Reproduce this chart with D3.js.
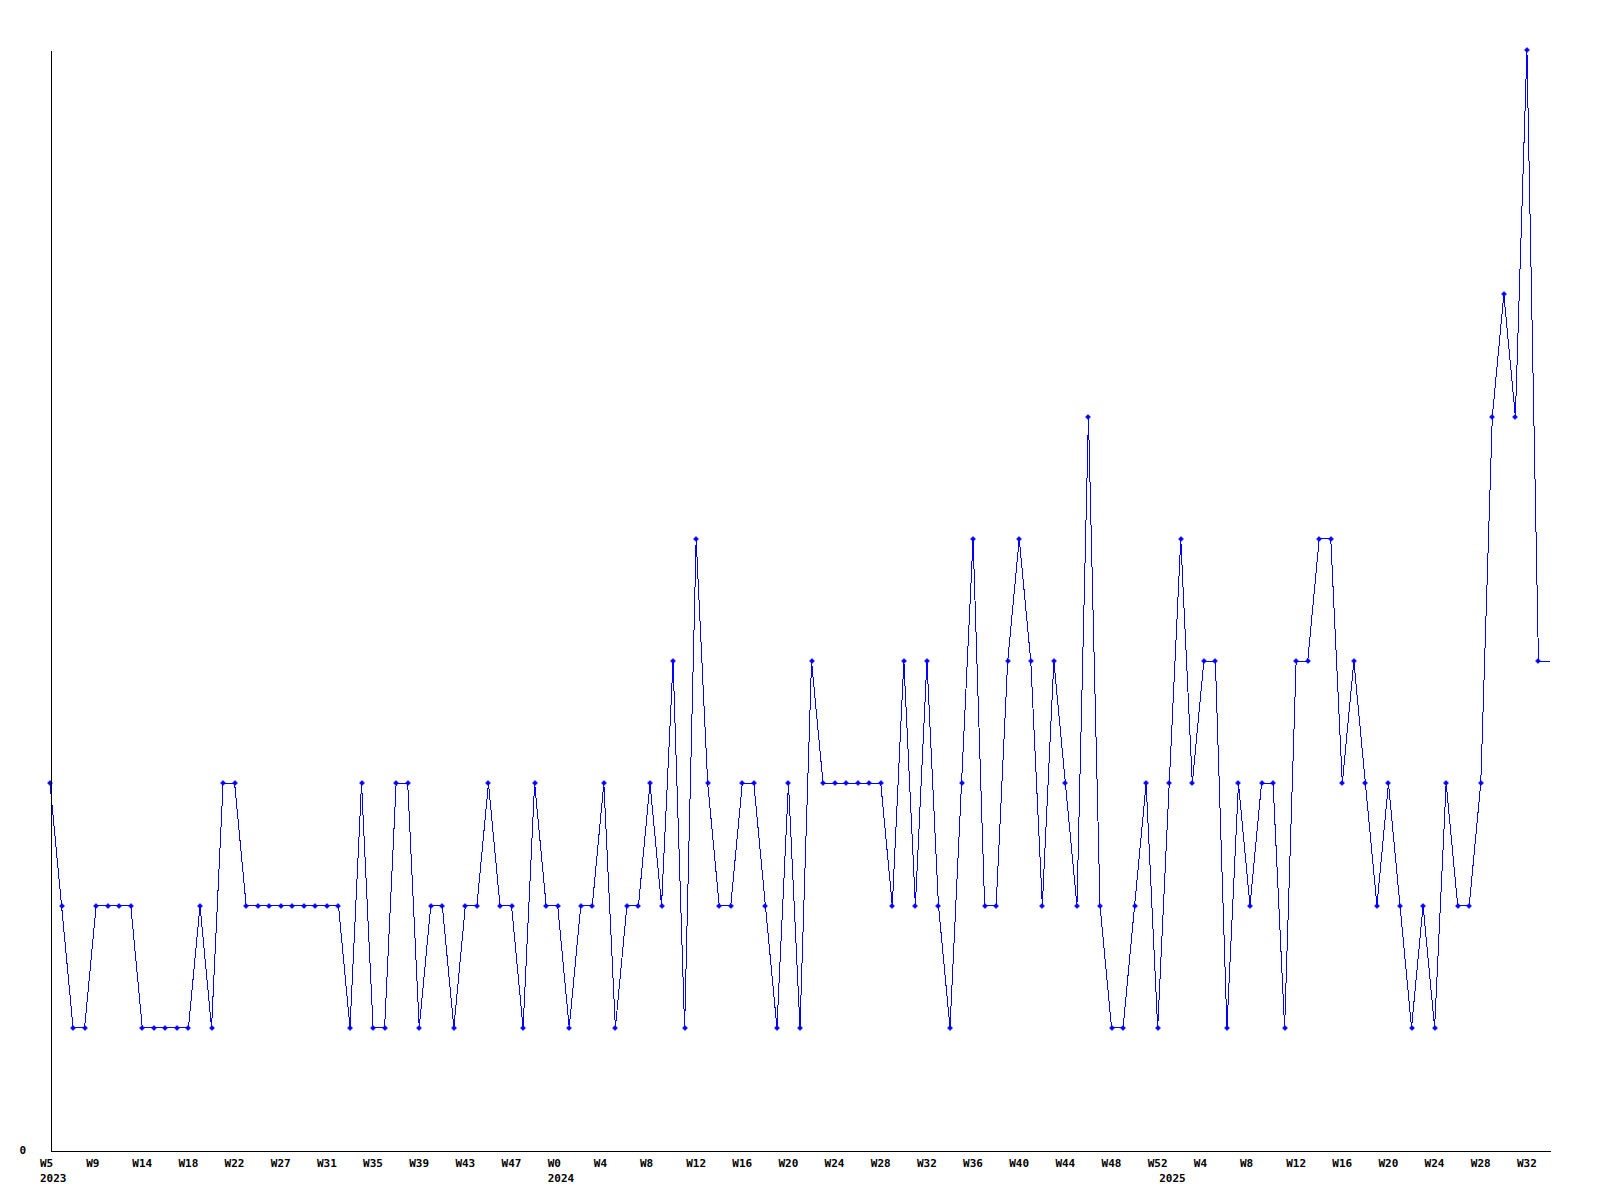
<!DOCTYPE html>
<html>
<head>
<meta charset="utf-8">
<script src="https://cdn.jsdelivr.net/npm/d3@7/dist/d3.min.js"></script>
<style>
  html, body { margin: 0; padding: 0; background: #ffffff; }
  svg { display: block; }
  text { font-family: "DejaVu Sans Mono", "Liberation Mono", monospace; font-weight: bold; font-size: 11px; fill: #000; }
</style>
</head>
<body>
<svg id="chart" width="1600" height="1200"></svg>
<script>
// ---- data (weekly counts) ----
const values = [
  3, 2, 1, 1, 2, 2, 2, 2, 1, 1,
  1, 1, 1, 2, 1, 3, 3, 2, 2, 2,
  2, 2, 2, 2, 2, 2, 1, 3, 1, 1,
  3, 3, 1, 2, 2, 1, 2, 2, 3, 2,
  2, 1, 3, 2, 2, 1, 2, 2, 3, 1,
  2, 2, 3, 2, 4, 1, 5, 3, 2, 2,
  3, 3, 2, 1, 3, 1, 4, 3, 3, 3,
  3, 3, 3, 2, 4, 2, 4, 2, 1, 3,
  5, 2, 2, 4, 5, 4, 2, 4, 3, 2,
  6, 2, 1, 1, 2, 3, 1, 3, 5, 3,
  4, 4, 1, 3, 2, 3, 3, 1, 4, 4,
  5, 5, 3, 4, 3, 2, 3, 2, 1, 2,
  1, 3, 2, 2, 3, 6, 7, 6, 9, 4
];
// x tick labels, one every 4 weeks starting at the first point
const tickLabels = [
  "W5","W9","W14","W18","W22","W27","W31","W35","W39","W43","W47",
  "W0","W4","W8","W12","W16","W20","W24","W28","W32","W36","W40","W44","W48","W52",
  "W4","W8","W12","W16","W20","W24","W28","W32"
];
const tickStep = 4;
// year labels and the week index where each year starts
const yearLabels = ["2023", "2024", "2025"];
const yearIndex = [0, 44, 97];
const yTickValues = [0];
const yMax = 9;

// ---- layout ----
const margin = { left: 50, right: 50, top: 50, bottom: 50 };
const W = 1600, H = 1200;
const svg = d3.select("#chart");

const x = d3.scaleLinear()
  .domain([0, values.length])
  .range([margin.left, W - margin.right]);
const y = d3.scaleLinear()
  .domain([0, yMax])
  .range([H - margin.bottom, margin.top]);

const blue = "#0000ff";

// line (extends flat from the last point to the plot's right edge)
const pts = values.map((v, i) => [i, v]);
const ext = pts.concat([[values.length, values[values.length - 1]]]);
svg.append("path")
  .datum(ext)
  .attr("fill", "none")
  .attr("stroke", blue)
  .attr("stroke-width", 1)
  .attr("shape-rendering", "crispEdges")
  .attr("d", d3.line().x(d => x(d[0])).y(d => y(d[1])));

// markers
svg.append("g").selectAll("path")
  .data(pts)
  .join("path")
  .attr("transform", d => `translate(${Math.round(x(d[0]))},${Math.round(y(d[1]))})`)
  .attr("d", "M-2.5,0L0,-2.5L2.5,0L0,2.5Z")
  .attr("fill", blue)
  .attr("stroke", blue)
  .attr("stroke-width", 0.6);

// axes (lines only, custom labels)
const xAxis = d3.axisBottom(x).tickValues([]).tickSizeOuter(0);
const gx = svg.append("g")
  .attr("transform", `translate(0,${y(0) + 0.5})`)
  .call(xAxis);
gx.select(".domain").attr("stroke", "#000").attr("shape-rendering", "crispEdges");

const yAxis = d3.axisLeft(y).tickValues([]).tickSizeOuter(0);
const gy = svg.append("g")
  .attr("transform", `translate(${x(0) + 0.5},0)`)
  .call(yAxis);
gy.select(".domain").attr("stroke", "#000").attr("shape-rendering", "crispEdges");

// y tick label
svg.append("g").selectAll("text")
  .data(yTickValues)
  .join("text")
  .attr("x", x(0) - 24)
  .attr("y", d => y(d) + 3.5)
  .attr("text-anchor", "end")
  .text(d => d);

// x tick labels
svg.append("g").selectAll("text")
  .data(tickLabels)
  .join("text")
  .attr("x", (d, i) => x(i * tickStep) - 10)
  .attr("y", y(0) + 16.5)
  .text(d => d);

// year labels
svg.append("g").selectAll("text")
  .data(yearLabels)
  .join("text")
  .attr("x", (d, i) => x(yearIndex[i]) - 10)
  .attr("y", y(0) + 31.5)
  .text(d => d);
</script>
</body>
</html>
